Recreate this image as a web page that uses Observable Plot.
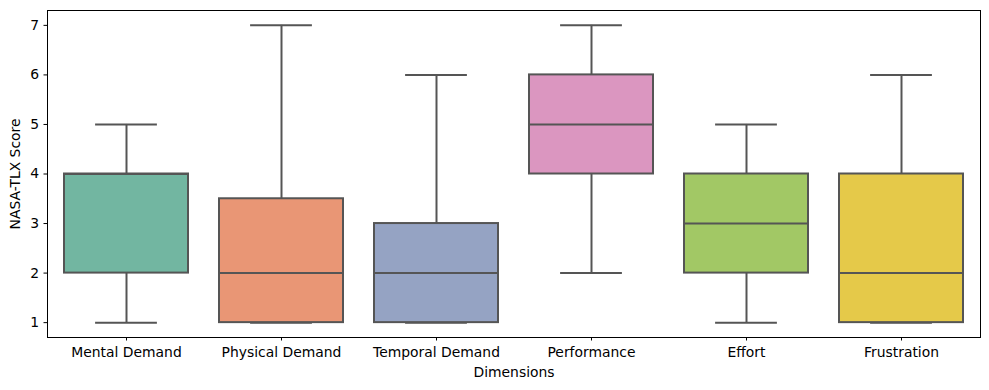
<!DOCTYPE html>
<html>
<head>
<meta charset="utf-8">
<script src="https://cdn.jsdelivr.net/npm/d3@7"></script>
<script src="https://cdn.jsdelivr.net/npm/@observablehq/plot@0.6"></script>
<style>
  html, body { margin: 0; padding: 0; background: #fff; }
</style>
</head>
<body>
<div id="chart"></div>
<script>
const categories = ["Mental Demand", "Physical Demand", "Temporal Demand", "Performance", "Effort", "Frustration"];
const mins    = [1, 1, 1, 2, 1, 1];
const q1s     = [2, 1, 1, 4, 2, 1];
const medians = [4, 2, 2, 5, 3, 2];
const q3s     = [4, 3.5, 3, 6, 4, 4];
const maxs    = [5, 7, 6, 7, 5, 6];
const yTicks  = [1, 2, 3, 4, 5, 6, 7];
const baseColors = ["#66c2a5", "#fc8d62", "#8da0cb", "#e78ac3", "#a6d854", "#ffd92f"];

const colors = baseColors.map(c => { const h = d3.hsl(c); h.s *= 0.75; return h.formatHex(); });
const rows = categories.map((c, i) => ({
  cat: c, min: mins[i], q1: q1s[i], med: medians[i], q3: q3s[i], max: maxs[i], color: colors[i]
}));

const W = 989, H = 390;
const lineColor = "#555555";
const bandwidth = (W - 47 - 9) / 6 * 0.8;
const capInset = bandwidth / 4;

const chart = Plot.plot({
  width: W,
  height: H,
  marginLeft: 47,
  marginRight: 9,
  marginTop: 10,
  marginBottom: 53,
  style: { fontFamily: "DejaVu Sans", fontSize: "13.9px", color: "#000", background: "#fff" },
  x: { type: "band", domain: categories, paddingInner: 0.2, paddingOuter: 0.1 },
  y: { domain: [0.7, 7.3] },
  marks: [
    Plot.ruleX(rows, { x: "cat", y1: "min", y2: "q1", stroke: lineColor, strokeWidth: 2 }),
    Plot.ruleX(rows, { x: "cat", y1: "q3", y2: "max", stroke: lineColor, strokeWidth: 2 }),
    Plot.tickY(rows, { x: "cat", y: "min", stroke: lineColor, strokeWidth: 2, insetLeft: capInset, insetRight: capInset }),
    Plot.tickY(rows, { x: "cat", y: "max", stroke: lineColor, strokeWidth: 2, insetLeft: capInset, insetRight: capInset }),
    Plot.barY(rows, { x: "cat", y1: "q1", y2: "q3", fill: "color", stroke: lineColor, strokeWidth: 2 }),
    Plot.tickY(rows, { x: "cat", y: "med", stroke: lineColor, strokeWidth: 2 }),
    Plot.frame({ stroke: "#000", strokeWidth: 1 }),
    Plot.axisY({ ticks: yTicks, tickSize: 3.5, tickPadding: 5, tickFormat: d => String(d),
      label: "NASA-TLX Score", labelAnchor: "center", labelArrow: "none", labelOffset: 37 }),
    Plot.axisX({ tickSize: 3.5, tickPadding: 6,
      label: "Dimensions", labelAnchor: "center", labelArrow: "none", labelOffset: 39 })
  ]
});
document.getElementById("chart").appendChild(chart);
</script>
</body>
</html>
